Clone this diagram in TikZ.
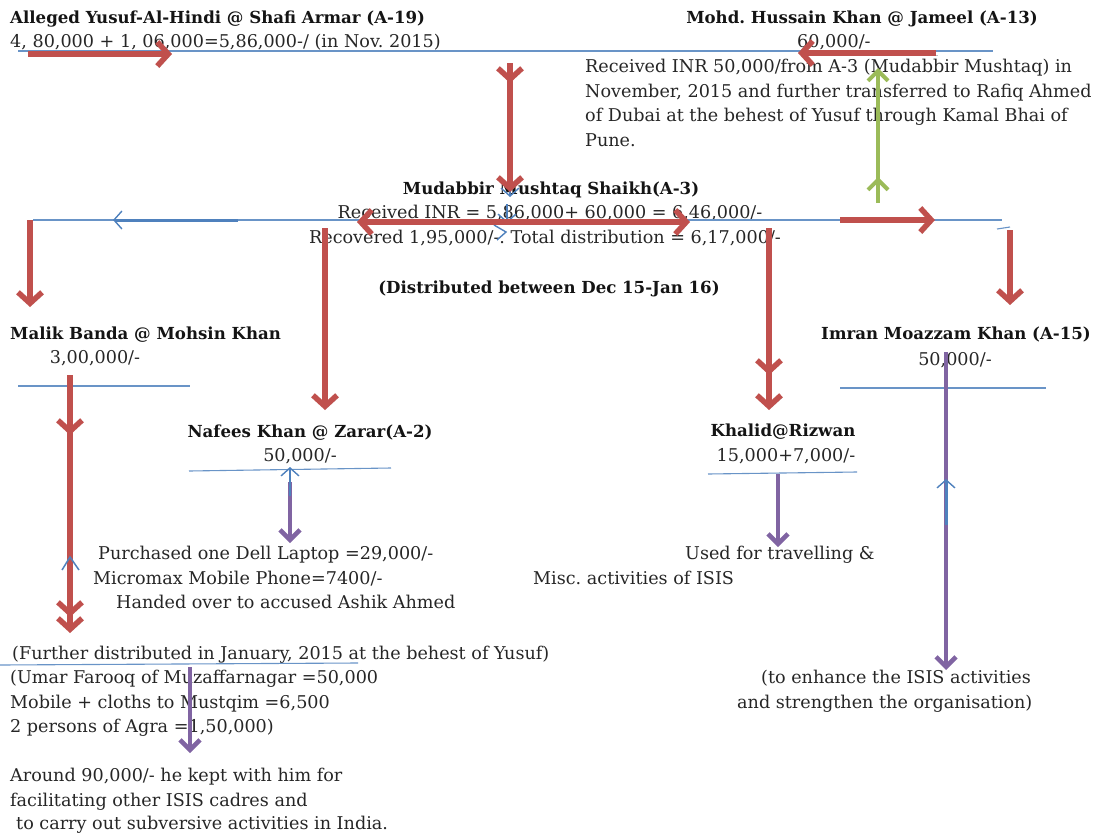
\documentclass[tikz,border=0pt]{standalone}
\usepackage{fontspec}
\setmainfont{DejaVu Serif}
\usetikzlibrary{arrows.meta,decorations.markings}
\definecolor{ared}{HTML}{C0504D}
\definecolor{ablue}{HTML}{4F81BD}
\definecolor{agreen}{HTML}{9BBB59}
\definecolor{apurple}{HTML}{8064A2}
\frenchspacing
\tikzset{
  txt/.style={inner sep=0pt, text=black!85, font=\fontsize{17.6}{24.5}\selectfont},
  btxt/.style={inner sep=0pt, text=black!92, font=\fontsize{16.6}{24.5}\selectfont\bfseries},
  bline/.style={draw=ablue!85, line width=1.1pt},
  rtip/.tip={Straight Barb[length=11pt,width=24pt]},
  ptip/.tip={Straight Barb[length=10pt,width=20pt]},
  btip/.tip={Straight Barb[length=8pt,width=18pt,line width=1.4pt]},
  shadowed/.style={preaction={draw=black!70, opacity=0.35, transform canvas={shift={(1.5pt,-2pt)}}}},
  redarr/.style={draw=ared, line width=5.5pt, -rtip, shadowed},
  redboth/.style={draw=ared, line width=5.5pt, rtip-rtip, shadowed},
  greenarr/.style={draw=agreen, line width=4pt, -ptip},
  purparr/.style={draw=apurple, line width=4.5pt, -ptip},
  bluearr/.style={draw=ablue, line width=3pt, -btip},
  bluethin/.style={draw=ablue, line width=1.4pt, -btip},
  midtip/.style={postaction={decorate, decoration={markings, mark=at position #1 with {\arrow{rtip}}}}},
  midptip/.style={postaction={decorate, decoration={markings, mark=at position #1 with {\arrow{ptip}}}}},
}
\begin{document}
\begin{tikzpicture}[x=1pt,y=-1pt]
\useasboundingbox (0,0) rectangle (1096,833);
% ---------------- texts ----------------
\node[btxt, anchor=base west] (yusuf) at (10,23) {Alleged Yusuf-Al-Hindi @ Shafi Armar (A-19)};
\node[txt, anchor=base west] (yusufamt) at (10,47) {4, 80,000 + 1, 06,000=5,86,000-/ (in Nov. 2015)};
\node[btxt, anchor=base] (jameel) at (862,23) {Mohd. Hussain Khan @ Jameel (A-13)};
\node[txt, anchor=base west] (jameelamt) at (797,47) {60,000/-};
\node[txt, anchor=base west] (par1) at (585,72.5) {Received INR 50,000/from A-3 (Mudabbir Mushtaq) in};
\node[txt, anchor=base west] (par2) at (585,97) {November, 2015 and further transferred to Rafiq Ahmed};
\node[txt, anchor=base west] (par3) at (585,121.5) {of Dubai at the behest of Yusuf through Kamal Bhai of};
\node[txt, anchor=base west] (par4) at (585,146) {Pune.};
\node[btxt, anchor=base] (mudabbir) at (551,194) {Mudabbir Mushtaq Shaikh(A-3)};
\node[txt, anchor=base] (recv) at (550,218) {Received INR = 5,86,000+ 60,000 = 6,46,000/-};
\node[txt, anchor=base] (recov) at (545,243) {Recovered 1,95,000/-. Total distribution = 6,17,000/-};
\node[btxt, anchor=base] (distr) at (549,293) {(Distributed between Dec 15-Jan 16)};
\node[btxt, anchor=base west] (malik) at (10,339) {Malik Banda @ Mohsin Khan};
\node[txt, anchor=base] (malikamt) at (95,363) {3,00,000/-};
\node[btxt, anchor=base] (nafees) at (310,437) {Nafees Khan @ Zarar(A-2)};
\node[txt, anchor=base] (nafeesamt) at (300,461) {50,000/-};
\node[btxt, anchor=base] (khalid) at (783,436) {Khalid@Rizwan};
\node[txt, anchor=base] (khalidamt) at (786,461) {15,000+7,000/-};
\node[btxt, anchor=base] (imran) at (956,339) {Imran Moazzam Khan (A-15)};
\node[txt, anchor=base] (imranamt) at (955,365) {50,000/-};
\node[txt, anchor=base west] (laptop) at (98,559) {Purchased one Dell Laptop =29,000/-};
\node[txt, anchor=base west] (phone) at (93,584) {Micromax Mobile Phone=7400/-};
\node[txt, anchor=base west] (handed) at (116,608) {Handed over to accused Ashik Ahmed};
\node[txt, anchor=base west] (used1) at (685,559) {Used for travelling \&};
\node[txt, anchor=base west] (used2) at (533,584) {Misc. activities of ISIS};
\node[txt, anchor=base west] (fur1) at (12,659) {(Further distributed in January, 2015 at the behest of Yusuf)};
\node[txt, anchor=base west] (fur2) at (10,683) {(Umar Farooq of Muzaffarnagar =50,000};
\node[txt, anchor=base west] (fur3) at (10,708) {Mobile + cloths to Mustqim =6,500};
\node[txt, anchor=base west] (fur4) at (10,732) {2 persons of Agra =1,50,000)};
\node[txt, anchor=base west] (kept1) at (10,781) {Around 90,000/- he kept with him for};
\node[txt, anchor=base west] (kept2) at (10,806) {facilitating other ISIS cadres and};
\node[txt, anchor=base west] (kept3) at (16,829) {to carry out subversive activities in India.};
\node[txt, anchor=base west] (enh1) at (761,683) {(to enhance the ISIS activities};
\node[txt, anchor=base west] (enh2) at (737,708) {and strengthen the organisation)};
% ---------------- blue bars ----------------
\coordinate (b1a) at (18,51);   \coordinate (b1b) at (993,51);
\coordinate (b2a) at (33,220);  \coordinate (b2b) at (1002,220);
\coordinate (b3a) at (18,386);  \coordinate (b3b) at (190,386);
\coordinate (b4a) at (189,471); \coordinate (b4b) at (391,468);
\coordinate (b5a) at (708,474); \coordinate (b5b) at (857,472);
\coordinate (b6a) at (840,388); \coordinate (b6b) at (1046,388);
\coordinate (b7a) at (0,665);   \coordinate (b7b) at (358,663);
\coordinate (tka) at (997,229); \coordinate (tkb) at (1010,227);
\draw[bline] (b1a) -- (b1b);
\draw[bline] (b2a) -- (b2b);
\draw[bline] (b3a) -- (b3b);
\draw[bline] (b4a) -- (b4b);
\draw[bline] (b5a) -- (b5b);
\draw[bline] (b6a) -- (b6b);
\draw[bline] (b7a) -- (b7b);
\draw[bline] (tka) -- (tkb);
% blue arrows
\coordinate (bl1) at (238,220); \coordinate (bl2) at (113,220);
\draw[bluearr] (bl1) -- (bl2);
\coordinate (bm1) at (510,176); \coordinate (bm2) at (510,197);
\coordinate (bm3) at (507,204); \coordinate (bm4) at (507,223);
\draw[bluethin] (bm1) -- (bm2);
\draw[bluethin] (bm3) -- (bm4);
\coordinate (gt1) at (494,225); \coordinate (gt2) at (506,232); \coordinate (gt3) at (497,240);
\draw[ablue, line width=1.4pt] (gt1) -- (gt2) -- (gt3);
% ---------------- red arrows ----------------
\coordinate (r1a) at (28,54);   \coordinate (r1b) at (172,54);
\coordinate (r2a) at (936,53);  \coordinate (r2b) at (798,53);
\coordinate (r3a) at (510,63);  \coordinate (r3b) at (510,192);
\coordinate (r4a) at (357,222); \coordinate (r4b) at (690,222);
\coordinate (r5a) at (840,220); \coordinate (r5b) at (935,220);
\coordinate (r6a) at (30,220);  \coordinate (r6b) at (30,307);
\coordinate (r7a) at (325,228); \coordinate (r7b) at (325,410);
\coordinate (r8a) at (769,228); \coordinate (r8b) at (769,410);
\coordinate (r9a) at (1010,230);\coordinate (r9b) at (1010,305);
\coordinate (r10a) at (70,375); \coordinate (r10b) at (70,633);
\draw[redarr] (r1a) -- (r1b);
\draw[redarr] (r2a) -- (r2b);
\draw[redarr, midtip=20pt] (r3a) -- (r3b);
\draw[redboth] (r4a) -- (r4b);
\draw[redarr] (r5a) -- (r5b);
\draw[redarr] (r6a) -- (r6b);
\draw[redarr] (r7a) -- (r7b);
\draw[redarr, midtip=147pt] (r8a) -- (r8b);
\draw[redarr] (r9a) -- (r9b);
\draw[redarr, midtip=60pt, midtip=242pt] (r10a) -- (r10b);
\coordinate (bc1) at (62,570); \coordinate (bc2) at (70,557); \coordinate (bc3) at (79,570);
\draw[ablue, line width=1.5pt] (bc1) -- (bc2) -- (bc3);
% ---------------- green ----------------
\coordinate (g1a) at (878,203); \coordinate (g1b) at (878,68);
\draw[greenarr, midptip=26pt] (g1a) -- (g1b);
% ---------------- purple ----------------
\coordinate (p1a) at (290,482); \coordinate (p1b) at (290,543);
\coordinate (p1c) at (290,496); \coordinate (p1d) at (290,467);
\draw[purparr] (p1a) -- (p1b);
\draw[bluethin] (p1c) -- (p1d);
\coordinate (p2a) at (778,474); \coordinate (p2b) at (778,547);
\draw[purparr] (p2a) -- (p2b);
\coordinate (p3a) at (946,352); \coordinate (p3b) at (946,670);
\coordinate (p3c) at (946,525); \coordinate (p3d) at (946,479);
\draw[purparr] (p3a) -- (p3b);
\draw[bluearr] (p3c) -- (p3d);
\coordinate (p4a) at (190,667); \coordinate (p4b) at (190,753);
\draw[purparr] (p4a) -- (p4b);
\end{tikzpicture}
\end{document}
